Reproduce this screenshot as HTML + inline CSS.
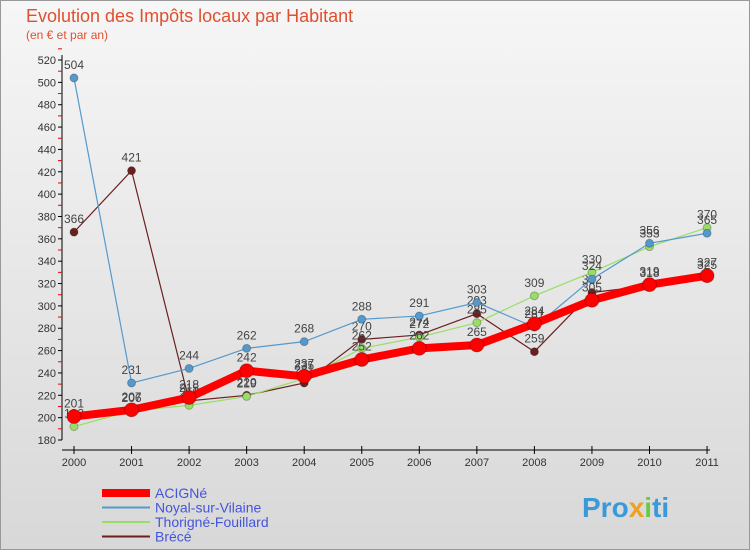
<!DOCTYPE html>
<html><head><meta charset="utf-8"><style>
body{margin:0;width:750px;height:550px;overflow:hidden;font-family:"Liberation Sans",sans-serif}
</style></head><body>
<svg width="750" height="550" xmlns="http://www.w3.org/2000/svg" id="svg">
<defs><linearGradient id="bg" x1="0" y1="0" x2="0" y2="1"><stop offset="0" stop-color="#f6f6f6"/><stop offset="1" stop-color="#d8d8d8"/></linearGradient></defs>
<rect x="0.5" y="0.5" width="749" height="549" fill="url(#bg)" stroke="#999"/>
<text x="26" y="22" font-size="18" fill="#e05030">Evolution des Impôts locaux par Habitant</text>
<text x="26" y="39" font-size="12" fill="#e05030">(en € et par an)</text>
<g id="axes"></g><g id="plot"></g><g id="legend"></g>
<text x="582" y="517" font-size="28" font-weight="bold" fill="#3a9ad9">Pro<tspan fill="#f0a020">x</tspan><tspan fill="#66cc44">i</tspan><tspan fill="#3a9ad9">ti</tspan></text>
</svg>
<script>
const years=[2000,2001,2002,2003,2004,2005,2006,2007,2008,2009,2010,2011];
const acigne=[201,207,218,242,237,252,262,265,284,305,319,327];
const noyal=[504,231,244,262,268,288,291,303,281,324,356,365];
const thorigne=[192,206,211,219,235,262,272,285,309,330,353,370];
const brece=[366,421,215,220,231,270,274,293,259,312,318,325];
const yTicks=[180,200,220,240,260,280,300,320,340,360,380,400,420,440,460,480,500,520];
const NS="http://www.w3.org/2000/svg";
const X=i=>74+i*57.55, Y=v=>440-(v-180)*1.1176;
function el(t,a,p){const e=document.createElementNS(NS,t);for(const k in a)e.setAttribute(k,a[k]);p.appendChild(e);return e;}
const ax=document.getElementById('axes'),pl=document.getElementById('plot'),lg=document.getElementById('legend');
let a=el('line',{x1:62,y1:55,x2:62,y2:440,stroke:'#000'},ax);
a=el('line',{x1:62,y1:450,x2:710,y2:450,stroke:'#000'},ax);
yTicks.forEach(v=>{el('line',{x1:58,y1:Y(v),x2:62,y2:Y(v),stroke:'#000'},ax);el('line',{x1:58,y1:Y(v+10),x2:62,y2:Y(v+10),stroke:'#e00'},ax);
const t=el('text',{x:56,y:Y(v)+4,'font-size':11,'text-anchor':'end',fill:'#333'},ax);t.textContent=v;});
years.forEach((y,i)=>{el('line',{x1:X(i),y1:446,x2:X(i),y2:454,stroke:'#000'},ax);const t=el('text',{x:X(i),y:466,'font-size':11,'text-anchor':'middle',fill:'#333'},ax);t.textContent=y;});
const series=[
{n:'Brécé',d:brece,c:'#6b1f1f',w:1.2,r:4,name:'brece'},
{n:'Thorigné-Fouillard',d:thorigne,c:'#99dd66',w:1.2,r:4,name:'thorigne'},
{n:'Noyal-sur-Vilaine',d:noyal,c:'#5599cc',w:1.2,r:4,name:'noyal'},
{n:'ACIGNé',d:acigne,c:'#ff0000',w:8,r:7,name:'acigne'}];
series.forEach(s=>{const g=el('g',{},pl);
el('polyline',{points:s.d.map((v,i)=>X(i)+','+Y(v)).join(' '),fill:'none',stroke:s.c,'stroke-width':s.w},g);
s.d.forEach((v,i)=>{const c=el('circle',{cx:X(i),cy:Y(v),r:s.r,fill:s.c,stroke:'rgba(0,0,0,0.25)'},g);
const t=el('text',{x:X(i),y:Y(v)-9,'font-size':12,'text-anchor':'middle',fill:'#444'},g);t.textContent=v;});});
const leg=[['ACIGNé','#ff0000',8],['Noyal-sur-Vilaine','#5599cc',2],['Thorigné-Fouillard','#99dd66',2],['Brécé','#6b1f1f',2]];
leg.forEach((l,i)=>{const y=493+i*14.5;const g=el('g',{},lg);
el('line',{x1:102,y1:y,x2:150,y2:y,stroke:l[1],'stroke-width':l[2]},g);const t=el('text',{x:155,y:y+5,'font-size':14,fill:'#4455dd'},g);t.textContent=l[0];});
</script>
</body></html>
